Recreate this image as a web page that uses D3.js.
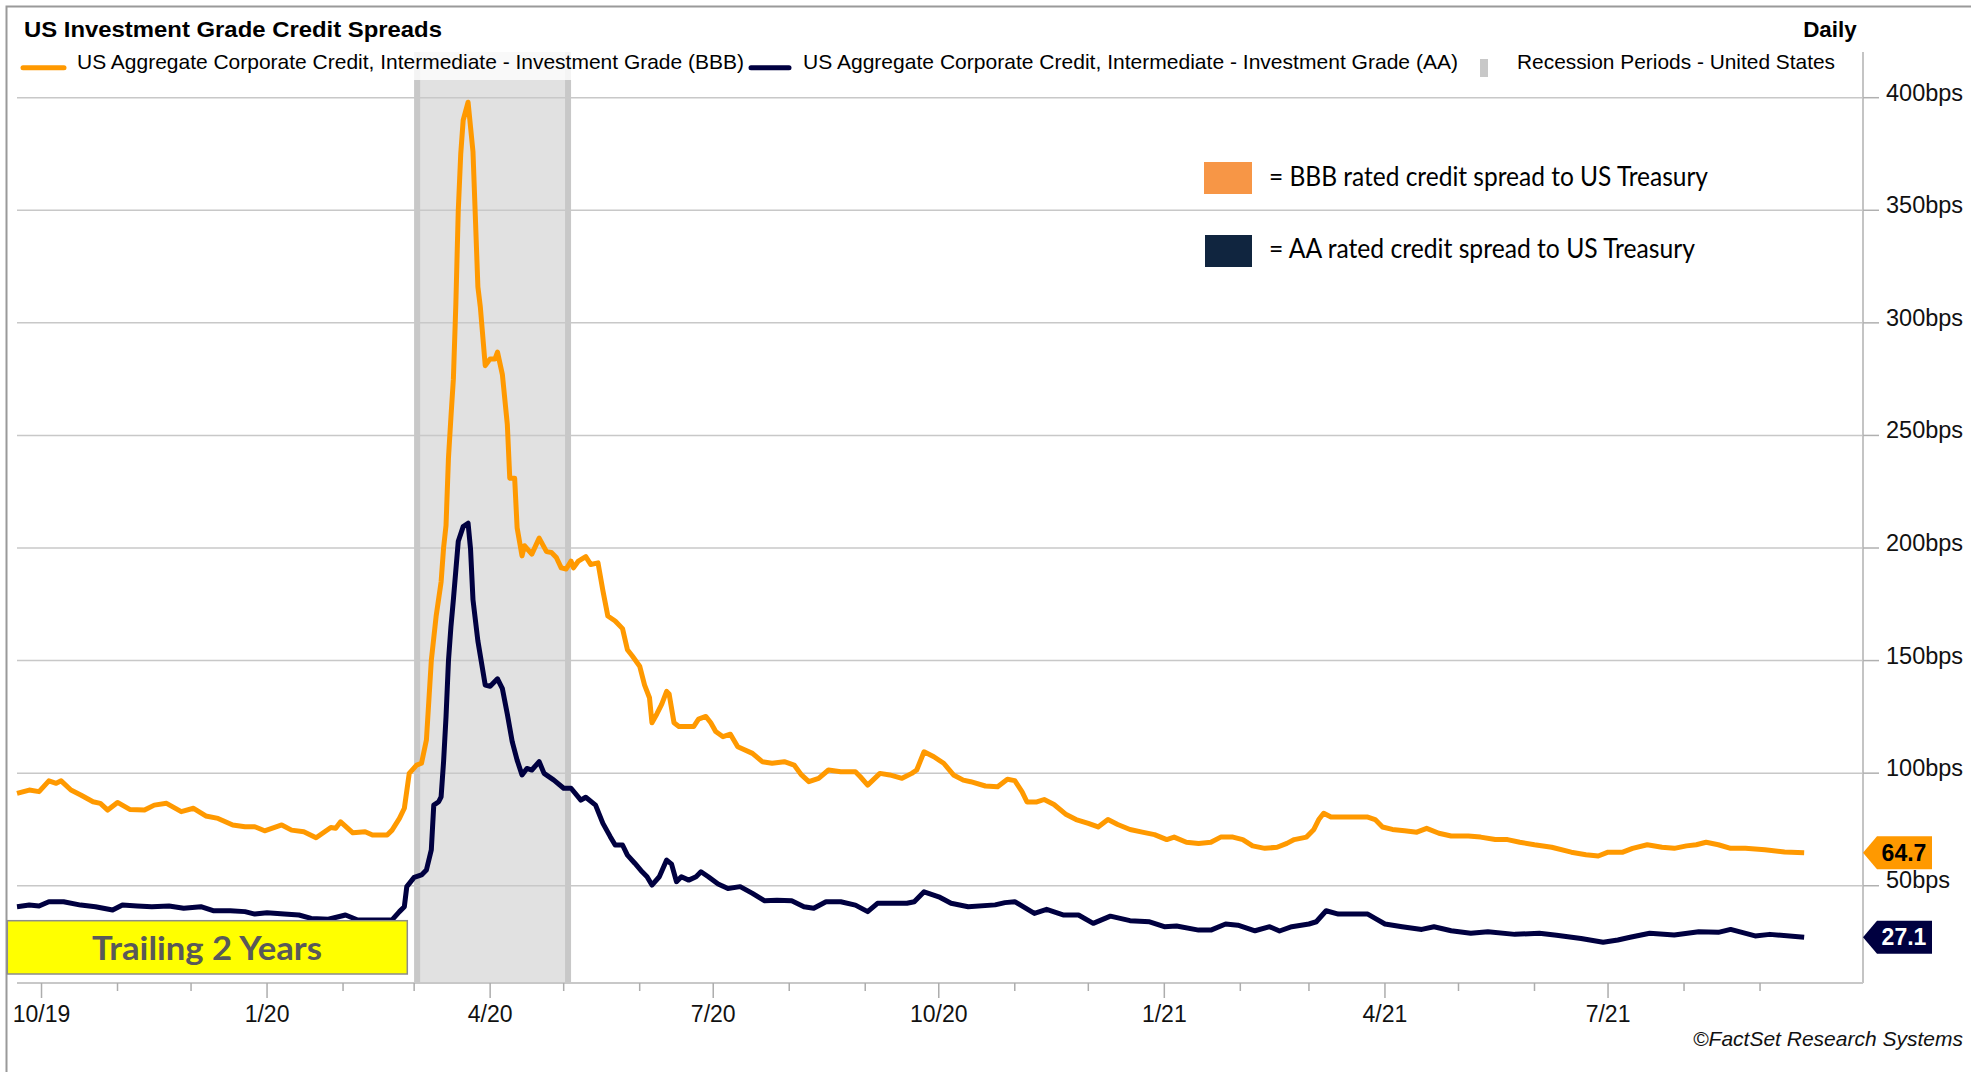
<!DOCTYPE html>
<html>
<head>
<meta charset="utf-8">
<script src="https://cdn.jsdelivr.net/npm/d3@7"></script>
<style>
  body { margin: 0; background: #fff; }
  svg { display: block; }
</style>
</head>
<body>
<div id="chart"></div>
<script>
// BBB spread (bps)
const bbbDates = ["2019-09-21","2019-09-26","2019-09-30","2019-10-04","2019-10-07","2019-10-09","2019-10-13","2019-10-17","2019-10-22","2019-10-25","2019-10-28","2019-11-01","2019-11-06","2019-11-12","2019-11-16","2019-11-21","2019-11-27","2019-12-02","2019-12-07","2019-12-12","2019-12-18","2019-12-23","2019-12-27","2019-12-31","2020-01-07","2020-01-11","2020-01-16","2020-01-21","2020-01-27","2020-01-29","2020-01-31","2020-02-05","2020-02-10","2020-02-13","2020-02-19","2020-02-21","2020-02-24","2020-02-26","2020-02-28","2020-03-02","2020-03-04","2020-03-06","2020-03-08","2020-03-10","2020-03-12","2020-03-13","2020-03-14","2020-03-15","2020-03-16","2020-03-17","2020-03-18","2020-03-19","2020-03-20","2020-03-21","2020-03-23","2020-03-25","2020-03-27","2020-03-28","2020-03-30","2020-04-01","2020-04-03","2020-04-04","2020-04-06","2020-04-08","2020-04-09","2020-04-11","2020-04-12","2020-04-14","2020-04-15","2020-04-18","2020-04-21","2020-04-24","2020-04-26","2020-04-28","2020-04-30","2020-05-02","2020-05-04","2020-05-05","2020-05-07","2020-05-10","2020-05-12","2020-05-15","2020-05-17","2020-05-19","2020-05-22","2020-05-25","2020-05-27","2020-05-29","2020-06-01","2020-06-03","2020-06-05","2020-06-06","2020-06-08","2020-06-10","2020-06-12","2020-06-13","2020-06-15","2020-06-17","2020-06-23","2020-06-25","2020-06-28","2020-06-30","2020-07-02","2020-07-05","2020-07-08","2020-07-11","2020-07-17","2020-07-21","2020-07-25","2020-07-30","2020-08-03","2020-08-06","2020-08-09","2020-08-13","2020-08-17","2020-08-22","2020-08-28","2020-08-30","2020-09-02","2020-09-07","2020-09-11","2020-09-16","2020-09-20","2020-09-22","2020-09-25","2020-09-29","2020-10-03","2020-10-07","2020-10-11","2020-10-14","2020-10-20","2020-10-25","2020-10-29","2020-11-01","2020-11-04","2020-11-06","2020-11-10","2020-11-13","2020-11-17","2020-11-22","2020-11-26","2020-12-01","2020-12-05","2020-12-09","2020-12-13","2020-12-18","2020-12-23","2020-12-28","2021-01-02","2021-01-05","2021-01-10","2021-01-15","2021-01-20","2021-01-24","2021-01-29","2021-02-02","2021-02-06","2021-02-11","2021-02-16","2021-02-20","2021-02-23","2021-02-28","2021-03-03","2021-03-05","2021-03-07","2021-03-10","2021-03-19","2021-03-25","2021-03-28","2021-03-31","2021-04-04","2021-04-09","2021-04-14","2021-04-18","2021-04-23","2021-04-28","2021-05-05","2021-05-10","2021-05-16","2021-05-21","2021-05-26","2021-06-01","2021-06-08","2021-06-16","2021-06-22","2021-06-27","2021-07-01","2021-07-07","2021-07-11","2021-07-17","2021-07-23","2021-07-28","2021-08-02","2021-08-06","2021-08-10","2021-08-15","2021-08-20","2021-08-26","2021-09-03","2021-09-11","2021-09-19"];
const bbbValues = [91.0,92.5,91.8,96.6,95.5,96.6,92.5,90.3,87.3,86.6,83.6,87.0,83.9,83.6,85.8,86.6,82.9,84.4,81.0,79.9,77.0,76.2,76.2,74.4,77.0,74.7,74.0,71.3,75.9,75.5,78.4,73.5,74.0,72.5,72.5,74.7,79.9,84.4,99.9,103.6,104.4,114.7,150,170,185,200,210,240,258,275,308,350,375,390,398,376,316,307,281,284,284,287,277,255,231,231,209,196.5,201,197.3,204.4,198.4,198,195.8,191.2,190.7,194.2,191.2,194.2,196.2,192.7,193.4,181,169.8,167.6,164.2,154.8,152,147.5,139.1,133.5,122.4,126.3,130.7,136.3,135.2,122.4,120.7,120.7,124,125.2,122.4,118.5,116.2,117.3,111.7,108.8,105.1,104.4,105.1,103.6,99.2,96.2,97.7,101.4,100.6,100.6,98.4,94.7,99.9,99.2,97.7,99.9,101.4,109.5,107.3,104.4,99.2,96.9,96.2,94.3,94.0,97.3,96.7,91.7,87.2,87.2,88.3,86.1,81.6,79.4,77.7,76.1,79.4,77.2,75,73.8,72.7,70.5,71.6,69.3,68.8,69.3,71.6,71.6,70.5,67.7,66.6,67.1,68.8,70.5,71.6,75,79.4,82.2,80.5,80.5,80.5,79.4,76.1,75,74.4,73.8,75.5,73.3,72.1,72.1,71.6,70.5,70.5,69.3,68.2,67.1,64.9,63.8,63.2,64.9,64.9,66.6,68.2,67.1,66.6,67.7,68.2,69.3,68.2,66.6,66.6,66,65,64.7];

// AA spread (bps)
const aaDates = ["2019-09-21","2019-09-26","2019-09-30","2019-10-04","2019-10-10","2019-10-17","2019-10-23","2019-10-30","2019-11-03","2019-11-09","2019-11-15","2019-11-22","2019-11-28","2019-12-05","2019-12-10","2019-12-17","2019-12-23","2019-12-27","2020-01-01","2020-01-08","2020-01-14","2020-01-19","2020-01-26","2020-02-02","2020-02-07","2020-02-15","2020-02-21","2020-02-24","2020-02-26","2020-02-27","2020-03-01","2020-03-04","2020-03-06","2020-03-08","2020-03-09","2020-03-11","2020-03-12","2020-03-13","2020-03-14","2020-03-15","2020-03-16","2020-03-17","2020-03-19","2020-03-21","2020-03-23","2020-03-24","2020-03-25","2020-03-27","2020-03-30","2020-04-01","2020-04-04","2020-04-06","2020-04-08","2020-04-10","2020-04-12","2020-04-14","2020-04-16","2020-04-18","2020-04-21","2020-04-23","2020-04-27","2020-05-01","2020-05-04","2020-05-08","2020-05-10","2020-05-14","2020-05-17","2020-05-20","2020-05-22","2020-05-25","2020-05-27","2020-05-30","2020-06-02","2020-06-04","2020-06-06","2020-06-09","2020-06-12","2020-06-14","2020-06-16","2020-06-18","2020-06-21","2020-06-24","2020-06-26","2020-06-29","2020-07-03","2020-07-07","2020-07-12","2020-07-17","2020-07-22","2020-07-27","2020-08-02","2020-08-07","2020-08-11","2020-08-16","2020-08-22","2020-08-28","2020-09-02","2020-09-06","2020-09-11","2020-09-18","2020-09-21","2020-09-25","2020-10-01","2020-10-06","2020-10-13","2020-10-24","2020-10-28","2020-11-01","2020-11-09","2020-11-14","2020-11-21","2020-11-27","2020-12-03","2020-12-10","2020-12-18","2020-12-26","2021-01-01","2021-01-06","2021-01-15","2021-01-20","2021-01-26","2021-01-31","2021-02-07","2021-02-13","2021-02-17","2021-02-22","2021-03-01","2021-03-04","2021-03-08","2021-03-13","2021-03-19","2021-03-25","2021-03-28","2021-04-01","2021-04-08","2021-04-16","2021-04-21","2021-04-28","2021-05-06","2021-05-13","2021-05-24","2021-06-03","2021-06-10","2021-06-20","2021-06-29","2021-07-05","2021-07-10","2021-07-18","2021-07-28","2021-08-07","2021-08-15","2021-08-20","2021-08-30","2021-09-05","2021-09-19"];
const aaValues = [40.7,41.4,41.0,42.9,42.9,41.4,40.7,39.2,41.4,41.0,40.7,41.0,40.0,40.7,38.9,38.9,38.5,37.4,38.0,37.4,37.0,35.5,35.1,37.0,34.8,34.8,34.8,38.5,40.7,49.6,53.7,54.8,57,65.9,85.8,87.3,89.5,105,125,150,165,177,203,209.5,211,199.6,177,158.7,139.1,138.6,141.9,137.5,126.3,114,105.8,99.2,102.1,101.4,105.1,99.9,96.9,93.3,93.3,88,89.3,85.8,77.7,71.8,68.1,68.1,63.6,60,56.2,54,50.3,54,61.4,59.6,51.8,54,52.5,54,56.2,54,50.8,48.8,49.6,46.6,43.3,43.6,43.3,40.7,40,42.9,42.9,41.4,38.5,42.2,42.2,42.2,42.9,47.3,45.1,42.2,40.7,41.5,42.5,42.9,37.7,39.5,37,37,33.3,36.5,34.5,34,31.8,32.1,30.3,30.3,33,32.5,30,31.8,29.9,31.8,33,34,38.9,37.4,37.4,37.4,35.5,33,31.8,30.6,31.8,30,28.9,29.6,28.4,28.9,28,26.6,24.9,25.9,27.1,28.9,28.1,29.6,29.3,30.6,27.7,28.4,27.1];

const yTicks = [50, 100, 150, 200, 250, 300, 350, 400];
const recession = ["2020-03-01", "2020-05-04"];
const lastLabels = {bbb: "64.7", aa: "27.1"};

const orange = "#ff9900";
const navy = "#000040";
const gridColor = "#c8c8c8";

const width = 1971, height = 1072;
const plot = {left: 17, right: 1863, top: 52, bottom: 983};

const parse = d3.utcParse("%Y-%m-%d");
const bbb = bbbDates.map((d, i) => ({date: parse(d), value: bbbValues[i]}));
const aa = aaDates.map((d, i) => ({date: parse(d), value: aaValues[i]}));

const svg = d3.select("#chart").append("svg")
    .attr("width", width)
    .attr("height", height)
    .style("font-family", "'Liberation Sans', Arial, sans-serif");

const x = d3.scaleUtc()
    .domain([parse("2019-09-21"), parse("2021-10-13")])
    .range([plot.left, plot.right]);

const y = d3.scaleLinear()
    .domain([6.8, 420.3])
    .range([plot.bottom, plot.top]);

// outer frame
svg.append("rect")
    .attr("x", 6.5).attr("y", 6.5)
    .attr("width", 2000).attr("height", 2000)
    .attr("fill", "#fff")
    .attr("stroke", "#9a9a9a")
    .attr("stroke-width", 2);

// recession shading
const rx0 = x(parse(recession[0])), rx1 = x(parse(recession[1]));
svg.append("rect")
    .attr("x", rx0).attr("y", plot.top)
    .attr("width", rx1 - rx0).attr("height", plot.bottom - plot.top)
    .attr("fill", "#e1e1e1");
[rx0 + 3, rx1 - 3].forEach(xx => {
    svg.append("line")
        .attr("x1", xx).attr("x2", xx)
        .attr("y1", plot.top).attr("y2", plot.bottom)
        .attr("stroke", "#c8c8c8")
        .attr("stroke-width", 6);
});

// gridlines
svg.append("g").selectAll("line")
    .data(yTicks)
    .enter().append("line")
    .attr("x1", plot.left).attr("x2", plot.right)
    .attr("y1", d => y(d)).attr("y2", d => y(d))
    .attr("stroke", gridColor)
    .attr("stroke-width", 1.5);

// lines
const line = d3.line()
    .x(d => x(d.date))
    .y(d => y(d.value));

svg.append("path")
    .datum(bbb)
    .attr("d", line)
    .attr("fill", "none")
    .attr("stroke", orange)
    .attr("stroke-width", 5)
    .attr("stroke-linejoin", "round");

svg.append("path")
    .datum(aa)
    .attr("d", line)
    .attr("fill", "none")
    .attr("stroke", navy)
    .attr("stroke-width", 5)
    .attr("stroke-linejoin", "round");

// legend veil over top of plot
svg.append("rect")
    .attr("x", plot.left).attr("y", plot.top)
    .attr("width", plot.right - plot.left).attr("height", 28)
    .attr("fill", "#fff")
    .attr("opacity", 0.8);

// right axis
svg.append("line")
    .attr("x1", plot.right).attr("x2", plot.right)
    .attr("y1", plot.top).attr("y2", plot.bottom)
    .attr("stroke", "#c4c4c4")
    .attr("stroke-width", 2);

const yAxis = svg.append("g");
yAxis.selectAll("line")
    .data(yTicks)
    .enter().append("line")
    .attr("x1", plot.right).attr("x2", plot.right + 16)
    .attr("y1", d => y(d)).attr("y2", d => y(d))
    .attr("stroke", "#b0b0b0")
    .attr("stroke-width", 1.5);
yAxis.selectAll("text")
    .data(yTicks)
    .enter().append("text")
    .attr("x", plot.right + 23)
    .attr("y", d => y(d) + (d === 50 ? 2 : 3))
    .attr("font-size", 23.5)
    .attr("fill", "#111")
    .text(d => d + "bps");

// bottom axis
svg.append("line")
    .attr("x1", plot.left).attr("x2", plot.right)
    .attr("y1", plot.bottom).attr("y2", plot.bottom)
    .attr("stroke", "#c8c8c8")
    .attr("stroke-width", 2);

const months = d3.utcMonth.range(x.domain()[0], parse("2021-10-01"));
const isMajor = d => d.getUTCMonth() % 3 === 0;
const xAxis = svg.append("g");
xAxis.selectAll("line")
    .data(months)
    .enter().append("line")
    .attr("x1", d => x(d)).attr("x2", d => x(d))
    .attr("y1", plot.bottom)
    .attr("y2", d => plot.bottom + (isMajor(d) ? 15 : 8))
    .attr("stroke", "#adadad")
    .attr("stroke-width", 1.5);
xAxis.selectAll("text")
    .data(months.filter(isMajor))
    .enter().append("text")
    .attr("x", d => x(d))
    .attr("y", 1021.5)
    .attr("text-anchor", "middle")
    .attr("font-size", 23)
    .attr("fill", "#111")
    .text(d3.utcFormat("%-m/%y"));

// last value tags
function tag(value, label, fill, textColor) {
    const ty = y(value);
    const h = 16.5;
    svg.append("path")
        .attr("d", `M${plot.right},${ty} L${plot.right + 14},${ty - h} L${plot.right + 69},${ty - h} L${plot.right + 69},${ty + h} L${plot.right + 14},${ty + h} Z`)
        .attr("fill", fill);
    svg.append("text")
        .attr("x", plot.right + 41)
        .attr("y", ty + 8)
        .attr("text-anchor", "middle")
        .attr("font-size", 23)
        .attr("font-weight", "bold")
        .attr("fill", textColor)
        .text(label);
}
tag(bbbValues[bbbValues.length - 1], lastLabels.bbb, orange, "#000");
tag(aaValues[aaValues.length - 1], lastLabels.aa, navy, "#fff");

// title
svg.append("text")
    .attr("x", 24).attr("y", 36.7)
    .attr("font-size", 22.4)
    .attr("font-weight", "bold")
    .attr("textLength", 418)
    .attr("lengthAdjust", "spacingAndGlyphs")
    .text("US Investment Grade Credit Spreads");

svg.append("text")
    .attr("x", 1856.7).attr("y", 36.7)
    .attr("text-anchor", "end")
    .attr("font-size", 22.4)
    .attr("font-weight", "bold")
    .text("Daily");

// top legend
const legendY = 69;
svg.append("line")
    .attr("x1", 23).attr("x2", 64).attr("y1", 67.7).attr("y2", 67.7)
    .attr("stroke", orange).attr("stroke-width", 5).attr("stroke-linecap", "round");
svg.append("text")
    .attr("x", 77).attr("y", legendY)
    .attr("font-size", 21)
    .attr("textLength", 667)
    .attr("lengthAdjust", "spacingAndGlyphs")
    .text("US Aggregate Corporate Credit, Intermediate - Investment Grade (BBB)");
svg.append("line")
    .attr("x1", 751).attr("x2", 789).attr("y1", 67.7).attr("y2", 67.7)
    .attr("stroke", navy).attr("stroke-width", 5).attr("stroke-linecap", "round");
svg.append("text")
    .attr("x", 803).attr("y", legendY)
    .attr("font-size", 21)
    .attr("textLength", 655)
    .attr("lengthAdjust", "spacingAndGlyphs")
    .text("US Aggregate Corporate Credit, Intermediate - Investment Grade (AA)");
svg.append("rect")
    .attr("x", 1480).attr("y", 59).attr("width", 8).attr("height", 18)
    .attr("fill", "#c8c8c8");
svg.append("text")
    .attr("x", 1517).attr("y", legendY)
    .attr("font-size", 21)
    .attr("textLength", 318)
    .attr("lengthAdjust", "spacingAndGlyphs")
    .text("Recession Periods - United States");

// annotation legend
const noteFont = "Lato, 'Open Sans', sans-serif";
svg.append("rect")
    .attr("x", 1204).attr("y", 162).attr("width", 48).attr("height", 32)
    .attr("fill", "#f79646");
svg.append("text")
    .attr("x", 1269).attr("y", 186)
    .attr("font-family", noteFont)
    .attr("font-size", 26)
    .attr("textLength", 439)
    .attr("lengthAdjust", "spacingAndGlyphs")
    .text("= BBB rated credit spread to US Treasury");
svg.append("rect")
    .attr("x", 1205).attr("y", 235).attr("width", 47).attr("height", 32)
    .attr("fill", "#10253f");
svg.append("text")
    .attr("x", 1269).attr("y", 258.3)
    .attr("font-family", noteFont)
    .attr("font-size", 26)
    .attr("textLength", 426)
    .attr("lengthAdjust", "spacingAndGlyphs")
    .text("= AA rated credit spread to US Treasury");

// trailing box
svg.append("rect")
    .attr("x", 7.3).attr("y", 920.7).attr("width", 400).attr("height", 53.3)
    .attr("fill", "#ffff00")
    .attr("stroke", "#8c8c8c")
    .attr("stroke-width", 1.5);
svg.append("text")
    .attr("x", 207).attr("y", 960)
    .attr("text-anchor", "middle")
    .attr("font-family", noteFont)
    .attr("font-size", 33)
    .attr("font-weight", "bold")
    .attr("fill", "#595959")
    .attr("textLength", 230)
    .attr("lengthAdjust", "spacingAndGlyphs")
    .text("Trailing 2 Years");

// source
svg.append("text")
    .attr("x", 1963).attr("y", 1046)
    .attr("text-anchor", "end")
    .attr("font-size", 21)
    .attr("font-style", "italic")
    .attr("fill", "#111")
    .text("©FactSet Research Systems");
</script>
</body>
</html>
